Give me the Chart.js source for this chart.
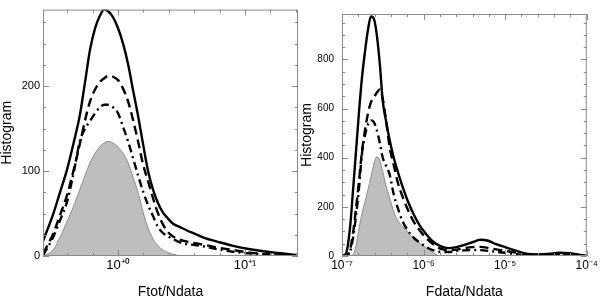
<!DOCTYPE html>
<html>
<head>
<meta charset="utf-8">
<script src="https://cdn.jsdelivr.net/npm/chart.js@4.4.1/dist/chart.umd.min.js"></script>
<style>
    body { margin: 0; background: #fff; }
    #wrap { display: flex; width: 600px; height: 300px; }
    canvas { display: block; }
</style>
</head>
<body>
<div id="wrap">
    <canvas id="leftChart" width="300" height="300"></canvas>
    <canvas id="rightChart" width="300" height="300"></canvas>
</div>
<script>
// left panel: Ftot/Ndata
const leftX = [0.257, 0.308, 0.349, 0.397, 0.450, 0.502, 0.550, 0.602, 0.659, 0.721, 0.776, 0.834, 0.913, 1.0,
    1.095, 1.199, 1.313, 1.437, 1.573, 1.723, 1.886, 2.065, 2.261, 2.476, 2.711, 3.076, 3.49, 4.04, 4.84, 6.02,
    8.05, 10.95, 14.9, 19.9, 26.1];
const leftSolid = [18, 49, 75, 102, 135, 167, 205, 243, 268, 283, 290, 288, 281, 268, 250, 226, 195, 165, 132, 100,
    78, 62, 51, 44, 38, 34, 30, 26, 21, 17, 12, 8, 5, 3, 1];
const leftDashed = [3, 26, 48, 72, 103, 133, 160, 182, 196, 205, 209, 212, 211, 207, 197, 182, 160, 135, 108, 88,
    68, 50, 37, 28, 23, 19, 17, 15, 13, 10, 7, 4, 2, 1, 0];
const leftDashDot = [1, 22, 42, 64, 100, 136, 150, 159, 168, 175, 178, 178, 175, 168, 152, 135, 115, 95, 76, 60,
    47, 34, 27, 23, 20, 16, 14, 13, 11, 8, 5, 3, 1.5, 0.5, 0];
const leftGray = [0, 7, 22, 41, 60, 79, 95, 110, 121, 129, 133, 135, 133, 128, 121, 110, 93, 75, 52, 33,
    20, 12, 7, 4, 2, 0.5, 0, 0, 0, 0, 0, 0, 0, 0, 0];
const leftXTicks = [1, 10];
const leftXLabels = ['10\u207A\u2070', '10\u207A\u00B9'];
const leftYTicks = [0, 100, 200];

// right panel: Fdata/Ndata
const rightX = [1.00e-7, 1.12e-7, 1.25e-7, 1.36e-7, 1.48e-7, 1.61e-7, 1.75e-7, 1.91e-7, 2.08e-7, 2.26e-7,
    2.46e-7, 2.67e-7, 2.91e-7, 3.16e-7, 3.44e-7, 3.85e-7, 4.31e-7, 4.82e-7, 5.55e-7, 6.38e-7, 7.55e-7, 8.94e-7,
    1.06e-6, 1.29e-6, 1.61e-6, 2.02e-6, 2.52e-6, 3.16e-6, 3.96e-6, 4.95e-6, 6.21e-6, 7.76e-6, 1.00e-5, 1.29e-5,
    1.66e-5, 2.13e-5, 2.75e-5, 3.54e-5, 4.56e-5, 6.03e-5, 7.76e-5, 1.00e-4];
const rightSolid = [0, 10, 110, 260, 420, 580, 720, 830, 920, 975, 965, 900, 780, 630, 555, 470, 400, 344, 280, 225,
    170, 125, 92, 60, 40, 32, 36, 45, 56, 66, 62, 48, 36, 24, 13, 7, 6, 9, 13, 11, 6, 0];
const rightDashed = [0, 0, 25, 90, 190, 300, 420, 510, 580, 625, 645, 665, 678, 640, 560, 440, 370, 300, 240, 190,
    140, 105, 75, 50, 30, 24, 26, 32, 36, 37, 33, 27, 21, 15, 9, 5, 5, 6, 7, 6, 3, 0];
const rightDashDot = [0, 0, 15, 70, 160, 270, 412, 490, 535, 552, 545, 512, 460, 400, 370, 330, 250, 196, 140, 105,
    75, 55, 38, 24, 17, 16, 20, 23, 24, 24, 21, 17, 13, 9, 5, 3, 3, 4, 5, 4, 2, 0];
const rightGray = [0, 0, 0, 5, 40, 110, 170, 220, 270, 320, 375, 404, 390, 344, 290, 236, 180, 145, 120, 98,
    73, 52, 35, 15, 0, 0, 0, 0, 0, 0, 0, 0, 0, 0, 0, 0, 0, 0, 0, 0, 0, 0];
const rightXTicks = [1e-7, 1e-6, 1e-5, 1e-4];
const rightXLabels = ['10\u207B\u2077', '10\u207B\u2076', '10\u207B\u2075', '10\u207B\u2074'];
const rightYTicks = [0, 200, 400, 600, 800];

const FONT = "'Liberation Sans', Arial, Helvetica, sans-serif";

// frame + inward ticks on all four sides, positions taken from the scales
const frameTicks = {
    id: 'frameTicks',
    afterDatasetsDraw(chart, args, opts) {
        const { ctx, chartArea: a } = chart;
        const x = chart.scales.x, y = chart.scales.y;
        ctx.save();
        ctx.strokeStyle = '#8a8a8a';
        ctx.lineWidth = 1;
        ctx.strokeRect(a.left + 0.5, a.top + 0.5, a.right - a.left - 1, a.bottom - a.top - 1);

        const lmin = Math.log10(x.min), lmax = Math.log10(x.max);
        for (let k = Math.ceil(lmin / opts.xStep - 1e-6); k * opts.xStep <= lmax + 1e-6; k++) {
            const e = k * opts.xStep;
            const major = Math.abs(e - Math.round(e)) < 1e-6;
            const px = Math.round(x.getPixelForValue(Math.pow(10, e))) + 0.5;
            const len = major ? 6 : 3;
            ctx.beginPath();
            ctx.moveTo(px, a.bottom); ctx.lineTo(px, a.bottom - len);
            ctx.moveTo(px, a.top); ctx.lineTo(px, a.top + len);
            ctx.stroke();
        }
        for (let v = 0; v <= y.max; v += opts.yStep) {
            const major = v % opts.yMajor === 0;
            const py = Math.round(y.getPixelForValue(v)) + 0.5;
            const len = major ? 6 : 3;
            ctx.beginPath();
            ctx.moveTo(a.left, py); ctx.lineTo(a.left + len, py);
            ctx.moveTo(a.right, py); ctx.lineTo(a.right - len, py);
            ctx.stroke();
        }
        ctx.restore();
    }
};

function points(xs, ys) {
    return xs.map((v, i) => ({ x: v, y: ys[i] }));
}

function makeChart(id, cfg) {
    const line = (data, dash, extra) => Object.assign({
        data: points(cfg.xs, data),
        borderColor: '#000',
        borderWidth: 2.4,
        borderDash: dash,
        pointRadius: 0,
        cubicInterpolationMode: 'monotone',
        fill: false
    }, extra || {});

    return new Chart(document.getElementById(id), {
        type: 'line',
        data: {
            datasets: [
                line(cfg.solid, []),
                line(cfg.dashed, [9, 5]),
                line(cfg.dashDot, [8, 4, 2, 4]),
                line(cfg.gray, [], {
                    borderColor: '#7a7a7a',
                    borderWidth: 0.8,
                    backgroundColor: '#bebebe',
                    fill: 'origin'
                })
            ]
        },
        options: {
            responsive: false,
            animation: false,
            layout: { padding: cfg.padding },
            plugins: {
                legend: { display: false },
                tooltip: { enabled: false },
                frameTicks: { xStep: cfg.xStep, yStep: cfg.yStep, yMajor: cfg.yMajor }
            },
            scales: {
                x: {
                    type: 'logarithmic',
                    min: cfg.xMin,
                    max: cfg.xMax,
                    grid: { display: false, drawTicks: false },
                    border: { display: false },
                    afterBuildTicks: (s) => { s.ticks = cfg.xTicks.map(v => ({ value: v })); },
                    afterFit: (s) => { s.height = 44; },
                    ticks: {
                        autoSkip: false,
                        maxRotation: 0,
                        padding: 2,
                        color: '#000',
                        font: { family: FONT, size: cfg.xTickSize },
                        callback: (v) => {
                            const i = cfg.xTicks.findIndex(t => Math.abs(t - v) / t < 1e-6);
                            return i >= 0 ? cfg.xLabels[i] : '';
                        }
                    },
                    title: {
                        display: true,
                        text: cfg.xTitle,
                        color: '#000',
                        padding: { top: 0, bottom: 1 },
                        font: { family: FONT, size: 14, lineHeight: 1 }
                    }
                },
                y: {
                    min: 0,
                    max: cfg.yMax,
                    grid: { display: false, drawTicks: false },
                    border: { display: false },
                    afterBuildTicks: (s) => { s.ticks = cfg.yTicks.map(v => ({ value: v })); },
                    afterFit: (s) => { s.width = cfg.yWidth; },
                    ticks: {
                        padding: cfg.yPad,
                        color: '#000',
                        font: { family: FONT, size: cfg.tickSize }
                    },
                    title: {
                        display: true,
                        text: 'Histogram',
                        color: '#000',
                        padding: { top: 0, bottom: 0 },
                        font: { family: FONT, size: 14, lineHeight: 1 }
                    }
                }
            }
        },
        plugins: [frameTicks]
    });
}

makeChart('leftChart', {
    xs: leftX, solid: leftSolid, dashed: leftDashed, dashDot: leftDashDot, gray: leftGray,
    xMin: Math.pow(10, -0.591), xMax: Math.pow(10, 1.417),
    xTicks: leftXTicks, xLabels: leftXLabels, yTicks: leftYTicks,
    yMax: 290, xStep: 0.2, yStep: 25, yMajor: 100,
    xTitle: 'Ftot/Ndata', tickSize: 11, xTickSize: 13, yWidth: 43, yPad: 3,
    padding: { left: 0, right: 2, top: 2, bottom: 0 }
});

makeChart('rightChart', {
    xs: rightX, solid: rightSolid, dashed: rightDashed, dashDot: rightDashDot, gray: rightGray,
    xMin: 1e-7, xMax: 1e-4,
    xTicks: rightXTicks, xLabels: rightXLabels, yTicks: rightYTicks,
    yMax: 985, xStep: 0.2, yStep: 50, yMajor: 200,
    xTitle: 'Fdata/Ndata', tickSize: 10, xTickSize: 12, yWidth: 42, yPad: 8,
    padding: { left: 0, right: 12, top: 10, bottom: 0 }
});
</script>
</body>
</html>
